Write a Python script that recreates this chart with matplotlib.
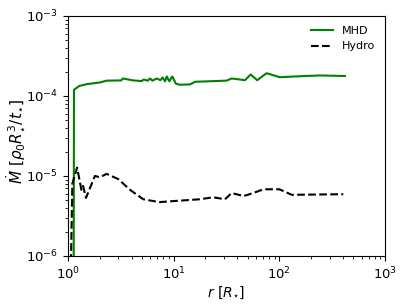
import matplotlib
matplotlib.use("Agg")
import matplotlib.pyplot as plt

r_mhd = [1.13, 1.14, 1.28, 1.5, 2.0, 2.32, 3.2, 3.3, 4.15, 4.98, 5.2, 5.7, 5.97, 6.3, 6.9, 7.5,
         7.87, 8.3, 8.6, 9.1, 9.7, 10.5, 11.3, 14.3, 15.9, 31.7, 35.4, 47.3, 53.5, 61.7, 75.8,
         101, 157, 242, 417]
mdot_mhd = [1e-7, 1.19e-4, 1.33e-4, 1.40e-4, 1.47e-4, 1.55e-4, 1.56e-4, 1.65e-4, 1.56e-4, 1.53e-4,
            1.60e-4, 1.55e-4, 1.65e-4, 1.55e-4, 1.65e-4, 1.57e-4, 1.70e-4, 1.52e-4, 1.75e-4,
            1.52e-4, 1.75e-4, 1.42e-4, 1.38e-4, 1.39e-4, 1.50e-4, 1.55e-4, 1.65e-4, 1.57e-4,
            1.85e-4, 1.57e-4, 1.92e-4, 1.71e-4, 1.76e-4, 1.80e-4, 1.77e-4]

r_hydro = [1.06, 1.07, 1.1, 1.22, 1.34, 1.39, 1.48, 1.8, 2.0, 2.32, 3.0, 3.86, 5.16, 7.3, 11.3,
           14.3, 17.6, 23.7, 30.6, 35.4, 46, 56.6, 70.5, 100, 131, 403]
mdot_hydro = [1e-7, 1e-6, 8e-6, 1.27e-5, 6.7e-6, 7.5e-6, 5.3e-6, 1.0e-5, 9.6e-6, 1.06e-5, 9.1e-6,
              6.7e-6, 5.1e-6, 4.7e-6, 4.9e-6, 5.0e-6, 5.1e-6, 5.4e-6, 5.1e-6, 6.1e-6, 5.6e-6,
              6.1e-6, 6.8e-6, 6.8e-6, 5.8e-6, 5.9e-6]

fig = plt.figure(figsize=(4.07, 3.05), dpi=100)
ax = fig.add_axes([0.167, 0.161, 0.779, 0.787])
ax.plot(r_mhd, mdot_mhd, color="green", lw=1.5, label="MHD")
ax.plot(r_hydro, mdot_hydro, color="black", lw=1.5, ls="--", label="Hydro")
ax.set_xscale("log")
ax.set_yscale("log")
ax.set_xlim(1, 1e3)
ax.set_ylim(1e-6, 1e-3)
ax.set_xlabel(r"$r\ [R_{\star}]$", fontsize=10, labelpad=2)
ax.set_ylabel(r"$\dot{M}\ [\rho_0 R_{\star}^3/t_{\star}]$", fontsize=11)
ax.yaxis.set_label_coords(-0.13, 0.475)
ax.tick_params(labelsize=9.5)
ax.legend(frameon=False, fontsize=8, loc="upper right")
fig.savefig("out.png", dpi=100)
